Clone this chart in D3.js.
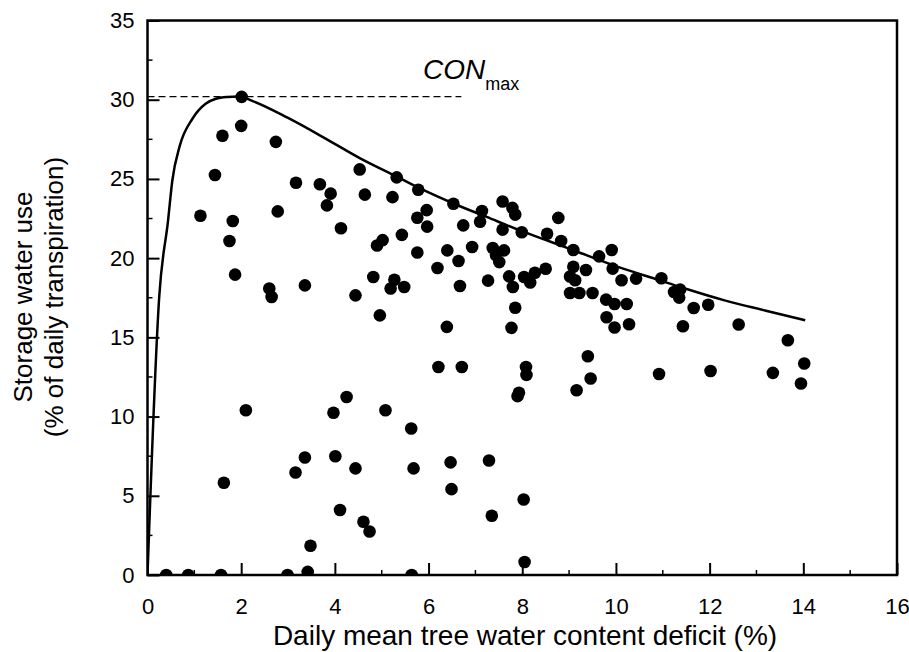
<!DOCTYPE html>
<html>
<head>
<meta charset="utf-8">
<script src="https://cdn.jsdelivr.net/npm/d3@7"></script>
<style>
  html, body { margin: 0; padding: 0; background: #fff; }
  svg text { font-family: "Liberation Sans", Arial, sans-serif; fill: #000; }
</style>
</head>
<body>
<svg id="chart" width="909" height="652"></svg>
<script>
// ---- data ----
const xTickValues = [0, 2, 4, 6, 8, 10, 12, 14, 16];
const yTickValues = [0, 5, 10, 15, 20, 25, 30, 35];
const xMinorTicks = [1, 3, 5, 7, 9, 11, 13, 15];
const yMinorTicks = [2.5, 7.5, 12.5, 17.5, 22.5, 27.5, 32.5];

const deficitX = [0.40,0.87,1.57,2.99,3.42,5.64,8.05,3.48,4.74,4.61,7.35,4.11,8.03,6.49,1.63,3.16,4.44,5.68,6.47,7.29,3.36,4.01,5.63,3.97,2.10,5.08,4.25,7.90,7.93,9.16,13.95,9.46,8.09,10.92,13.35,12.02,6.21,6.71,8.08,14.02,9.40,13.67,7.77,9.97,6.39,11.43,12.62,10.28,9.80,4.96,11.66,7.85,11.97,9.97,10.23,9.79,11.35,2.65,4.44,9.02,9.22,9.50,11.24,11.37,2.60,5.19,5.48,7.80,6.67,3.36,8.17,7.27,9.13,10.12,5.27,4.82,8.04,9.02,7.72,10.43,10.97,1.87,8.27,9.36,8.50,9.93,6.19,9.09,7.51,6.64,9.64,7.44,5.76,6.40,7.61,9.09,9.91,7.37,6.93,4.90,5.02,8.83,1.75,5.43,8.53,7.99,7.58,4.13,5.97,6.74,7.10,1.82,8.77,5.76,1.13,7.85,2.78,7.14,5.96,7.79,3.83,6.53,7.58,5.23,4.64,3.91,5.78,3.68,3.17,5.32,1.44,4.53,2.74,1.60,2.00,2.01];
const storageY = [0,0,0,0,0.2,0,0.82,1.85,2.75,3.36,3.74,4.10,4.77,5.42,5.82,6.47,6.73,6.73,7.11,7.23,7.42,7.50,9.25,10.24,10.40,10.40,11.24,11.29,11.50,11.66,12.09,12.40,12.63,12.69,12.76,12.88,13.13,13.13,13.13,13.35,13.81,14.82,15.60,15.62,15.66,15.70,15.81,15.83,16.27,16.39,16.85,16.87,17.06,17.11,17.11,17.38,17.51,17.55,17.65,17.80,17.80,17.80,17.86,18.01,18.08,18.08,18.18,18.18,18.24,18.28,18.46,18.58,18.60,18.60,18.64,18.81,18.81,18.84,18.85,18.71,18.73,18.96,19.08,19.25,19.33,19.34,19.38,19.46,19.75,19.82,20.11,20.18,20.36,20.49,20.49,20.51,20.51,20.64,20.70,20.80,21.14,21.08,21.08,21.47,21.54,21.63,21.80,21.89,21.99,22.07,22.30,22.34,22.54,22.55,22.68,22.75,22.95,22.98,23.03,23.17,23.33,23.43,23.58,23.85,24.01,24.07,24.32,24.66,24.76,25.10,25.25,25.60,27.34,27.73,28.35,30.18];

// fitted curve
const curveX = [0, 0.25, 0.44, 0.53, 0.69, 0.96, 1.24, 1.46, 1.70, 1.95, 2.26, 3.00, 3.83, 4.54, 5.32, 5.82, 6.53, 7.24, 7.95, 8.59, 9.09, 10.09, 10.94, 11.51, 12.30, 13.18, 14.04];
const curveY = [0, 17.55, 22.4, 24.9, 27.1, 28.8, 29.74, 30.06, 30.17, 30.2, 29.9, 28.85, 27.5, 26.3, 25.15, 24.4, 23.45, 22.6, 21.75, 21.05, 20.5, 19.4, 18.6, 18.05, 17.35, 16.7, 16.08];

const conMax = 30.2;
const conMaxLineEnd = 6.7;

const xLabel = "Daily mean tree water content deficit (%)";
const yLabel1 = "Storage water use";
const yLabel2 = "(% of daily transpiration)";

// ---- layout ----
const svg = d3.select("#chart");
const L = 147.5, R = 897, T = 20.5, B = 575;

const x = d3.scaleLinear().domain([0, 16]).range([L, R]);
const y = d3.scaleLinear().domain([0, 35]).range([B, T]);

svg.append("defs").append("clipPath").attr("id", "plotclip")
  .append("rect").attr("x", L).attr("y", T).attr("width", R - L).attr("height", B - T);

// minor ticks
svg.append("g").selectAll("line").data(xMinorTicks).join("line")
  .attr("x1", d => x(d)).attr("x2", d => x(d))
  .attr("y1", B).attr("y2", B - 5)
  .attr("stroke", "#000").attr("stroke-width", 1.5);
svg.append("g").selectAll("line").data(yMinorTicks).join("line")
  .attr("x1", L).attr("x2", L + 5)
  .attr("y1", d => y(d)).attr("y2", d => y(d))
  .attr("stroke", "#000").attr("stroke-width", 1.5);

// axes
const xAxis = svg.append("g").attr("transform", `translate(0,${B})`)
  .call(d3.axisBottom(x).tickValues(xTickValues).tickFormat(d3.format("d"))
        .tickSizeInner(-12).tickSizeOuter(0).tickPadding(23));
const yAxis = svg.append("g").attr("transform", `translate(${L},0)`)
  .call(d3.axisLeft(y).tickValues(yTickValues).tickFormat(d3.format("d"))
        .tickSizeInner(-12).tickSizeOuter(0).tickPadding(13));
[xAxis, yAxis].forEach(g => {
  g.select(".domain").remove();
  g.selectAll(".tick line").attr("stroke", "#000").attr("stroke-width", 2);
  g.selectAll(".tick text").attr("font-size", 22).attr("font-family", "Liberation Sans, Arial, sans-serif").attr("fill", "#000");
});

// frame
svg.append("rect").attr("x", L).attr("y", T).attr("width", R - L).attr("height", B - T)
  .attr("fill", "none").attr("stroke", "#000").attr("stroke-width", 2.5);

// dashed CONmax line
svg.append("line")
  .attr("x1", x(0)).attr("x2", x(conMaxLineEnd))
  .attr("y1", y(conMax)).attr("y2", y(conMax))
  .attr("stroke", "#000").attr("stroke-width", 1.3).attr("stroke-dasharray", "7,4");

const plot = svg.append("g").attr("clip-path", "url(#plotclip)");

// points
plot.selectAll("circle").data(deficitX.map((d, i) => [d, storageY[i]])).join("circle")
  .attr("cx", d => x(d[0])).attr("cy", d => y(d[1])).attr("r", 6.3).attr("fill", "#000");

// curve
const curveData = curveX.map((d, i) => [d, curveY[i]]);
plot.append("path").datum(curveData)
  .attr("d", d3.line().x(d => x(d[0])).y(d => y(d[1])).curve(d3.curveMonotoneX))
  .attr("fill", "none").attr("stroke", "#000").attr("stroke-width", 2.5);

// CONmax label
const con = svg.append("text").attr("x", 423).attr("y", 79).attr("font-size", 28);
con.append("tspan").attr("font-style", "italic").text("CON");
con.append("tspan").attr("font-size", 18).attr("dy", 11).text("max");

// axis titles
svg.append("text").attr("x", 525).attr("y", 645).attr("text-anchor", "middle")
  .attr("font-size", 28).text(xLabel);
svg.append("text").attr("transform", "translate(32,297) rotate(-90)").attr("text-anchor", "middle")
  .attr("font-size", 26).text(yLabel1);
svg.append("text").attr("transform", "translate(63,297) rotate(-90)").attr("text-anchor", "middle")
  .attr("font-size", 26).text(yLabel2);
</script>
</body>
</html>
